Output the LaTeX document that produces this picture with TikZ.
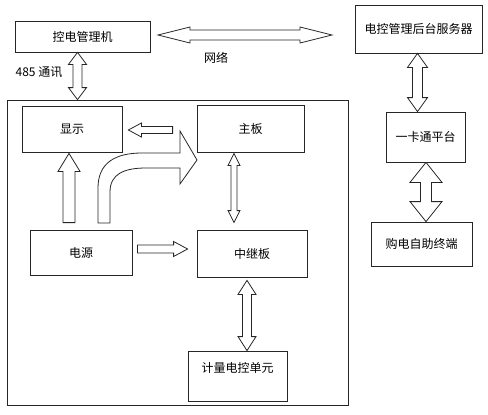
\documentclass[tikz,border=0pt]{standalone}
\usepackage{fontspec}
\setmainfont{Noto Sans CJK SC}
\usetikzlibrary{calc,positioning}

% flecha hueca doble: desde, hasta, medio cuerpo, media punta, largo punta
\newcommand{\flechadoble}[5]{%
  \draw[flecha] (#1) -- ($(#1)!#5pt!(#2)!#4pt!90:(#2)$) -- ($(#1)!#5pt!(#2)!#3pt!90:(#2)$)
    -- ($(#2)!#5pt!(#1)!#3pt!-90:(#1)$) -- ($(#2)!#5pt!(#1)!#4pt!-90:(#1)$) -- (#2)
    -- ($(#2)!#5pt!(#1)!#4pt!90:(#1)$) -- ($(#2)!#5pt!(#1)!#3pt!90:(#1)$)
    -- ($(#1)!#5pt!(#2)!#3pt!-90:(#2)$) -- ($(#1)!#5pt!(#2)!#4pt!-90:(#2)$) -- cycle;}
% flecha hueca simple
\newcommand{\flechasimple}[5]{%
  \draw[flecha] ($(#1)!#3pt!90:(#2)$) -- ($(#2)!#5pt!(#1)!#3pt!-90:(#1)$)
    -- ($(#2)!#5pt!(#1)!#4pt!-90:(#1)$) -- (#2)
    -- ($(#2)!#5pt!(#1)!#4pt!90:(#1)$) -- ($(#2)!#5pt!(#1)!#3pt!90:(#1)$)
    -- ($(#1)!#3pt!-90:(#2)$) -- cycle;}

\begin{document}
\begin{tikzpicture}[x=1pt,y=-1pt,line width=0.8pt,
    caja/.style={draw=black!85,fill=white,inner sep=2pt},
    flecha/.style={draw=black!85,fill=white,line join=miter},
    font=\fontsize{12}{14}\selectfont]
  \useasboundingbox (0,0) rectangle (488,415);
  % marco del medidor
  \node[draw=black!85,minimum width=341pt,minimum height=305pt] (placa) at (177.5,252.5) {};
  % cajas
  \node[caja,minimum width=135pt,minimum height=31pt] (kdgl) at (82.5,36.5) {控电管理机};
  \node[caja,minimum width=127pt,minimum height=48pt] (fwq) at (418.5,29) {电控管理后台服务器};
  \node[caja,minimum width=79pt,minimum height=50pt] (ykt) at (425.5,137) {一卡通平台};
  \node[caja,minimum width=101pt,minimum height=44pt] (zd) at (421.5,244) {购电自助终端};
  \node[caja,minimum width=100pt,minimum height=46pt] (xs) at (72,129) {显示};
  \node[caja,minimum width=107pt,minimum height=47pt] (zb) at (250.5,128.5) {主板};
  \node[caja,minimum width=102pt,minimum height=45pt] (dy) at (81,252.5) {电源};
  \node[caja,minimum width=110pt,minimum height=47pt] (zj) at (252,253.5) {中继板};
  \node[caja,minimum width=99pt,minimum height=50pt,text depth=17.5pt] (jl) at (237.5,376) {计量电控单元};
  % red
  \coordinate (r1) at (158,35);
  \coordinate (r2) at (332,35);
  \flechadoble{r1}{r2}{5}{8}{32}
  \node (red) at (216,58) {网络};
  % 485
  \coordinate (a1) at ($(kdgl.south)+(-5,0)$);
  \coordinate (a2) at (a1 |- placa.north);
  \flechadoble{a1}{a2}{4.5}{9}{12}
  \node (com) at (39,72) {485 通讯};
  % servidor, plataforma, terminal
  \coordinate (s1) at ($(fwq.south)+(-1,0)$);
  \coordinate (s2) at (s1 |- ykt.north);
  \flechadoble{s1}{s2}{5}{10}{14}
  \coordinate (t1) at ($(ykt.south)+(0.5,0)$);
  \coordinate (t2) at (t1 |- zd.north);
  \flechadoble{t1}{t2}{5.5}{16}{20}
  % interior
  \coordinate (m1) at ($(zb.south)+(-16.5,1)$);
  \coordinate (m2) at ($(m1 |- zj.north)+(0,-7)$);
  \flechadoble{m1}{m2}{3}{6}{12}
  \coordinate (j1) at ($(zj.south)+(-5,3)$);
  \coordinate (j2) at (j1 |- jl.north);
  \flechadoble{j1}{j2}{4.5}{9}{14}
  \coordinate (e1) at ($(dy.east)+(5,-3.5)$);
  \coordinate (e2) at ($(e1 -| zj.west)+(-9,0)$);
  \flechasimple{e1}{e2}{4}{7.5}{14}
  \coordinate (p1) at ($(zb.west)+(-24,1.5)$);
  \coordinate (p2) at ($(p1 -| xs.east)+(6,0)$);
  \flechasimple{p1}{p2}{3.5}{7}{13}
  \coordinate (d1) at ($(dy.north)+(-12,-7)$);
  \coordinate (d2) at ($(d1 |- xs.south)+(0,1)$);
  \flechasimple{d1}{d2}{6}{11}{18}
  % flecha curva del electro al principal
  \draw[flecha] (98,223) -- (98,188) .. controls (98,163) and (115,153) .. (142,153)
    -- (180,153) -- (180,131) -- (197,160) -- (180,184) -- (180,168) -- (146,168)
    .. controls (124,168) and (110,174) .. (110,192) -- (110,223) -- cycle;
\end{tikzpicture}
\end{document}
